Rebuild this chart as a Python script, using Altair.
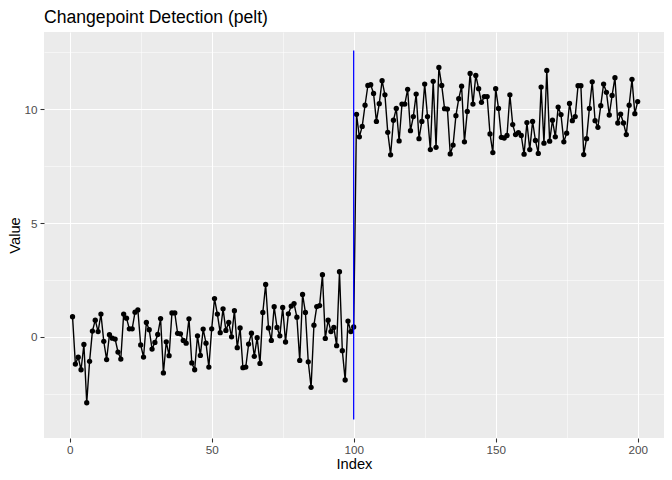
import altair as alt
import pandas as pd


# values, one per index
values_before = [
    0.88, -1.2, -0.9, -1.45, -0.34, -2.9, -1.08, 0.25, 0.73, 0.23,
    1.0, -0.2, -1.0, 0.09, -0.06, -0.1, -0.67, -0.98, 1.0, 0.82,
    0.35, 0.35, 1.08, 1.18, -0.36, -0.89, 0.63, 0.31, -0.54, -0.25,
    0.1, 0.8, -1.59, -0.22, -0.83, 1.05, 1.05, 0.15, 0.13, -0.16,
    -0.28, 0.79, -1.15, -1.45, 0.04, -0.82, 0.34, -0.28, -1.33, 0.35,
    1.68, 1.0, 0.18, 1.23, 0.28, 0.63, 0.0, 1.15, -0.48, 0.39,
    -1.36, -1.33, -0.32, 0.16, -0.86, -0.04, -1.17, 1.07, 2.3, 0.39,
    -0.16, 1.32, 0.41, 0.04, 1.29, -0.23, 1.01, 1.35, 1.46, 0.86,
    -1.04, 1.86, 1.07, -1.1, -2.22, 0.51, 1.33, 1.37, 2.73, -0.07,
    0.73, 0.23, 0.41, -0.39, 2.86, -0.61, -1.9, 0.69, 0.23, 0.43,
]
values_after = [
    9.78, 8.79, 9.25, 10.18, 11.05, 11.08, 10.7, 9.47, 10.25, 11.26,
    10.64, 8.99, 8.0, 9.52, 10.04, 8.61, 10.23, 10.23, 10.88, 9.06,
    9.68, 10.67, 8.71, 9.47, 11.11, 9.68, 8.23, 11.23, 8.33, 11.84,
    11.05, 10.03, 10.01, 8.04, 8.43, 9.72, 10.47, 11.02, 8.57, 9.91,
    11.58, 10.23, 11.49, 10.91, 10.31, 10.56, 10.56, 8.92, 8.1, 10.91,
    10.04, 8.77, 8.74, 8.85, 10.64, 9.33, 8.89, 8.98, 8.85, 8.03,
    9.42, 8.23, 9.47, 8.63, 8.06, 10.98, 8.51, 11.71, 8.6, 9.52,
    8.79, 10.1, 9.77, 8.57, 8.95, 10.26, 9.5, 9.68, 11.04, 11.04,
    8.01, 8.71, 10.04, 11.21, 9.5, 9.21, 10.16, 11.11, 10.75, 9.75,
    10.61, 11.39, 9.4, 9.79, 9.4, 8.89, 10.18, 11.32, 9.81, 10.34,
]
changepoints = [100]
segment_low = [-3.64]
segment_high = [12.59]

x_ticks = [0, 25, 50, 75, 100, 125, 150, 175, 200]
y_ticks = [-2.5, 0, 2.5, 5, 7.5, 10, 12.5]

values = values_before + values_after
df = pd.DataFrame({'Index': list(range(1, len(values) + 1)), 'Value': values})
cp_df = pd.DataFrame({'Index': changepoints, 'Value': segment_low, 'high': segment_high})

FONT = 'Liberation Sans'


def gg_axis(title, ticks, major_test, label_pad, title_pad):
    # ggplot-ish axis: major + minor grid, labels only on majors
    return alt.Axis(
        title=title,
        values=ticks,
        domain=False,
        grid=True,
        gridColor='white',
        gridWidth={'condition': {'test': major_test, 'value': 1.07}, 'value': 0.53},
        tickColor='#333333',
        tickWidth=1.07,
        tickSize=4,
        tickOpacity={'condition': {'test': major_test, 'value': 1}, 'value': 0},
        labelExpr="(%s) ? format(datum.value, '~g') : ''" % major_test,
        labelColor='#4D4D4D',
        labelFont=FONT,
        labelFontSize=11.7,
        labelPadding=label_pad,
        labelFlush=False,
        labelOverlap=False,
        titleFont=FONT,
        titleFontSize=14.7,
        titleFontWeight='normal',
        titleColor='black',
        titlePadding=title_pad,
    )


x_axis = gg_axis('Index', x_ticks, 'datum.value % 50 === 0', 2, 1)
y_axis = gg_axis('Value', y_ticks, 'datum.value % 5 === 0', 3, 1)
# the panel runs to the right edge of the page, as in the reference
xscale = alt.Scale(domain=[-9.05, 209.27], nice=False, zero=False)
yscale = alt.Scale(domain=[-4.45, 13.4], nice=False, zero=False)

line = alt.Chart(df).mark_line(color='black', strokeWidth=1.4).encode(
    x=alt.X('Index:Q', scale=xscale, axis=x_axis),
    y=alt.Y('Value:Q', scale=yscale, axis=y_axis),
)

points = alt.Chart(df).mark_circle(color='black', size=28, opacity=1).encode(
    x=alt.X('Index:Q', scale=xscale, axis=x_axis),
    y=alt.Y('Value:Q', scale=yscale, axis=y_axis),
)

cp_line = alt.Chart(cp_df).mark_rule(color='blue', strokeWidth=1.3).encode(
    x=alt.X('Index:Q', scale=xscale, axis=x_axis),
    y=alt.Y('Value:Q', scale=yscale, axis=y_axis),
    y2='high:Q',
)

chart = (line + points + cp_line).properties(
    width=620,
    height=406,
    autosize=alt.AutoSizeParams(type='none'),
    padding={'left': 36, 'top': 24, 'right': 0, 'bottom': 34},
    title=alt.TitleParams(
        'Changepoint Detection (pelt)',
        anchor='start',
        frame='group',
        font=FONT,
        fontSize=17.6,
        fontWeight='normal',
        color='black',
        offset=5,
    ),
).configure_view(fill='#EBEBEB', strokeWidth=0)

chart.save('out.html', embed_options={'renderer': 'svg', 'actions': False})
